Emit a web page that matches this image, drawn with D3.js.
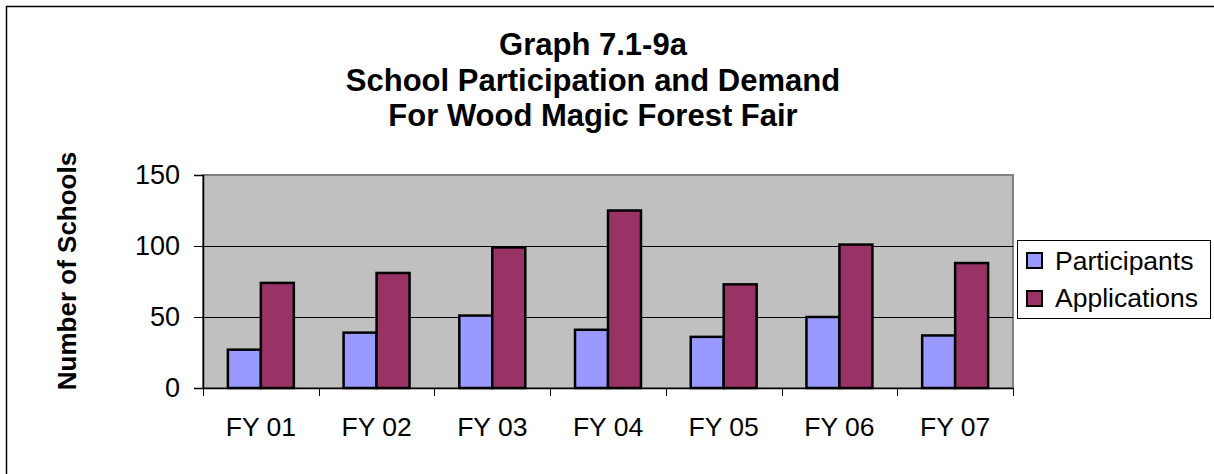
<!DOCTYPE html>
<html>
<head>
<meta charset="utf-8">
<script src="https://cdn.jsdelivr.net/npm/d3@7"></script>
<style>
  html, body { margin: 0; padding: 0; background: #fff; }
  svg { display: block; font-family: "Liberation Sans", Arial, sans-serif; }
</style>
</head>
<body>
<svg id="chart" width="1214" height="474"></svg>
<script>
const categories = ["FY 01", "FY 02", "FY 03", "FY 04", "FY 05", "FY 06", "FY 07"];
const participants = [27, 39, 51, 41, 36, 50, 37];
const applications = [74, 81, 99, 125, 73, 101, 88];
const seriesNames = ["Participants", "Applications"];
const seriesColors = ["#9999FF", "#993366"];
const yTicks = [0, 50, 100, 150];
const titleLines = ["Graph 7.1-9a", "School Participation and Demand", "For Wood Magic Forest Fair"];
const yTitle = "Number of Schools";

const svg = d3.select("#chart");
const W = 1214, H = 474;
const plot = { left: 203, right: 1013, top: 175, bottom: 388 };

// outer chart frame (right and bottom edges fall outside the picture)
svg.append("rect").attr("x", 6.5).attr("y", 6.5).attr("width", W + 60).attr("height", H + 60)
  .attr("fill", "#fff").attr("stroke", "#000").attr("stroke-width", 1.5);

// title
const title = svg.append("text").attr("text-anchor", "middle")
  .attr("font-weight", "bold").attr("font-size", 31).attr("fill", "#000");
titleLines.forEach((t, i) => {
  title.append("tspan").attr("x", 593).attr("y", 55 + i * 35.5).text(t);
});

const x0 = d3.scaleBand().domain(categories).range([plot.left, plot.right]).paddingInner(0).paddingOuter(0);
const groupInner = 0.215;
const x1 = d3.scaleBand().domain(seriesNames)
  .range([x0.bandwidth() * groupInner, x0.bandwidth() * (1 - groupInner)]).padding(0);
const y = d3.scaleLinear().domain([0, 150]).range([plot.bottom, plot.top]);

// plot background
svg.append("rect").attr("x", plot.left).attr("y", plot.top)
  .attr("width", plot.right - plot.left).attr("height", plot.bottom - plot.top)
  .attr("fill", "#C0C0C0").attr("stroke", "#808080").attr("stroke-width", 2);

// gridlines
svg.append("g").selectAll("line").data(yTicks.filter(d => d > 0 && d < 150)).join("line")
  .attr("x1", plot.left).attr("x2", plot.right)
  .attr("y1", d => Math.round(y(d)) + 0.5).attr("y2", d => Math.round(y(d)) + 0.5)
  .attr("stroke", "#000").attr("stroke-width", 1);

// bars
const data = categories.map((c, i) => ({ cat: c, vals: [participants[i], applications[i]] }));
const groups = svg.append("g").selectAll("g").data(data).join("g")
  .attr("transform", d => `translate(${x0(d.cat)},0)`);
groups.selectAll("rect").data(d => d.vals.map((v, j) => ({ v, s: seriesNames[j], c: seriesColors[j] })))
  .join("rect")
  .attr("x", d => x1(d.s)).attr("width", x1.bandwidth())
  .attr("y", d => y(d.v)).attr("height", d => y(0) - y(d.v))
  .attr("fill", d => d.c).attr("stroke", "#000").attr("stroke-width", 2.5);

// y axis
const yAxis = d3.axisLeft(y).tickValues(yTicks).tickSize(9).tickPadding(14);
const gy = svg.append("g").attr("transform", `translate(${plot.left},0)`).call(yAxis);
gy.select(".domain").attr("stroke", "#000").attr("stroke-width", 1.5);
gy.selectAll(".tick line").attr("stroke", "#000");
gy.selectAll(".tick text").attr("font-size", 27).attr("fill", "#000")
  .attr("font-family", "Liberation Sans, Arial, sans-serif");

// x axis
const xAxis = d3.axisBottom(x0).tickSize(0).tickPadding(29);
const gx = svg.append("g").attr("transform", `translate(0,${plot.bottom})`).call(xAxis);
gx.select(".domain").attr("stroke", "#000").attr("stroke-width", 1.5);
gx.selectAll(".tick text").attr("font-size", 26.5).attr("fill", "#000")
  .attr("font-family", "Liberation Sans, Arial, sans-serif");
// boundary ticks between categories
const bounds = categories.map(c => x0(c)).concat([plot.right]);
gx.append("g").selectAll("line").data(bounds).join("line")
  .attr("x1", d => Math.round(d) + 0.5).attr("x2", d => Math.round(d) + 0.5)
  .attr("y1", 0).attr("y2", 8).attr("stroke", "#000").attr("stroke-width", 1);

// y title
svg.append("text").attr("transform", `translate(76,${271}) rotate(-90)`)
  .attr("text-anchor", "middle").attr("font-weight", "bold").attr("font-size", 26)
  .attr("fill", "#000").text(yTitle);

// legend
const lg = svg.append("g");
lg.append("rect").attr("x", 1017.5).attr("y", 240.5).attr("width", 193).attr("height", 78)
  .attr("fill", "#fff").attr("stroke", "#000").attr("stroke-width", 1);
seriesNames.forEach((s, i) => {
  lg.append("rect").attr("x", 1027).attr("y", 253 + i * 38).attr("width", 15).attr("height", 15)
    .attr("fill", seriesColors[i]).attr("stroke", "#000").attr("stroke-width", 2);
  lg.append("text").attr("x", 1055).attr("y", 270 + i * 37).attr("font-size", 26.5)
    .attr("fill", "#000").text(s);
});
</script>
</body>
</html>
